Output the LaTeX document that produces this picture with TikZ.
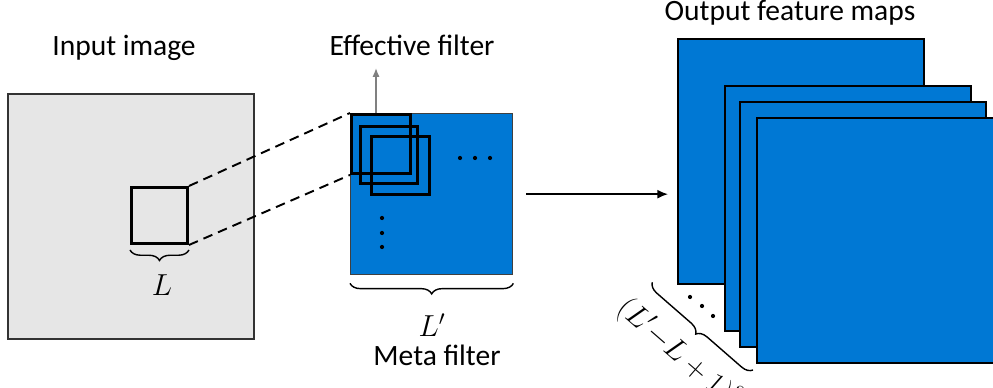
\documentclass[tikz,border=0pt]{standalone}
\usepackage{fontspec}
\setmainfont{Carlito}
\usetikzlibrary{arrows.meta,decorations.pathreplacing,positioning}
\definecolor{mapblue}{HTML}{0078D4}
\definecolor{imggray}{HTML}{E6E6E6}
\tikzset{
  lbl/.style={font=\fontsize{16.8}{19}\selectfont, inner sep=0pt},
  fmap/.style={draw=black, line width=1pt, fill=mapblue, anchor=north west, inner sep=0pt},
  win/.style={draw=black, line width=1.7pt, anchor=north west, inner sep=0pt},
  brc/.style={decorate, decoration={brace, amplitude=#1}, line width=0.8pt},
}
\begin{document}
\begin{tikzpicture}[x=0.02cm, y=0.02cm]
	\useasboundingbox (0,0) rectangle (993,388);
	
	%Input image
	\node[draw=black!80, line width=1.1pt, fill=imggray, anchor=north west, minimum width=4.92cm, minimum height=4.9cm, inner sep=0pt] (img) at (7,295) {};
	\node[lbl] (imgtext) at (124,340) {Input image};
	\node[win, minimum size=1.12cm] (w) at (130,202) {};
	\draw[brc=6pt] ([yshift=-0.1cm]w.south east) -- ([yshift=-0.1cm]w.south west);
	\node[lbl] (L) at (162,103) {$L$};
	
	%Meta filter
	\node[fmap, draw=black!75, line width=0.8pt, minimum width=3.24cm, minimum height=3.22cm] (meta) at (350,275) {};
	\node[win, minimum size=1.18cm] (f1) at (350,275) {};
	\node[win, minimum size=1.14cm] (f2) at (359,263) {};
	\node[win, minimum size=1.16cm] (f3) at (370,253) {};
	\draw[line width=1.1pt, dash pattern=on 5.5pt off 3.5pt] (w.north east) -- (f1.north west);
	\draw[line width=1.1pt, dash pattern=on 5.5pt off 3.5pt] (w.south east) -- (f1.south west);
	\foreach \x in {460,475,490} \fill (\x,230) circle (1.2pt);
	\foreach \y in {170,155,141} \fill (382,\y) circle (1.2pt);
	
	\coordinate (efftip) at (376,320);
	\draw[gray, line width=0.8pt, -{Latex[length=5pt,width=4pt]}] (f1.north -| efftip) -- (efftip);
	\node[lbl] (efftext) at (412,343) {Effective filter};
	
	\draw[brc=6pt] ([yshift=-0.16cm]meta.south east) -- ([yshift=-0.16cm]meta.south west);
	\node[lbl] (Lp) at (432,63) {$L'$};
	\node[lbl] (metatext) at (437,33) {Meta filter};
	
	%Output feature maps
	\node[fmap, minimum width=4.92cm, minimum height=4.9cm] (m1) at (677,350) {};
	\node[fmap, minimum width=4.92cm, minimum height=4.9cm] (m2) at (724,303) {};
	\node[fmap, minimum width=4.92cm, minimum height=4.9cm] (m3) at (739,287) {};
	\node[fmap, minimum width=4.92cm, minimum height=4.9cm] (m4) at (756,271) {};
	\node[lbl] (outtext) at (790,375) {Output feature maps};
	
	\draw[line width=0.8pt, -{Latex[length=6pt,width=5pt]}, shorten <=0.26cm, shorten >=0.18cm] (meta.east) -- (meta.east -| m1.west);
	
	\coordinate (b1) at (652,106);
	\coordinate (b2) at (753,18);
	\draw[brc=6pt] (b2) -- (b1);
	\fill (690,91) circle (1.2pt);
	\fill (702,82) circle (1.2pt);
	\fill (713,72) circle (1.2pt);
	\node[lbl, rotate=-41] (count) at (679,34) {$(L'{-}L+1)^2$};
\end{tikzpicture}
\end{document}
